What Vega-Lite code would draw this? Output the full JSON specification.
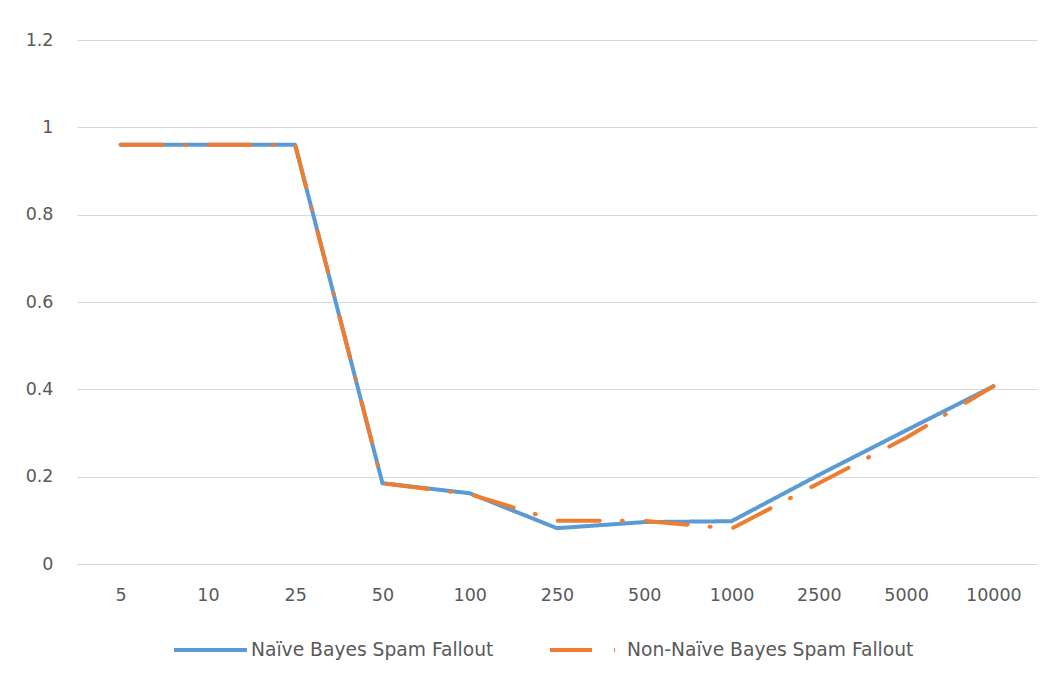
{
  "$schema": "https://vega.github.io/schema/vega-lite/v6.json",
  "width": 960,
  "height": 524,
  "autosize": {"type": "none"},
  "padding": {"left": 77, "top": 40, "right": 16, "bottom": 113},
  "background": "white",
  "config": {
    "view": {"stroke": null},
    "font": "DejaVu Sans",
    "axis": {"labelColor": "#595959", "labelFontSize": 17.5, "gridColor": "#d9d9d9", "gridWidth": 1, "ticks": false, "title": null}
  },
  "data": {
    "values": [
      {"n": "5", "series": "Naïve Bayes Spam Fallout", "v": 0.96},
      {"n": "10", "series": "Naïve Bayes Spam Fallout", "v": 0.96},
      {"n": "25", "series": "Naïve Bayes Spam Fallout", "v": 0.96},
      {"n": "50", "series": "Naïve Bayes Spam Fallout", "v": 0.185},
      {"n": "100", "series": "Naïve Bayes Spam Fallout", "v": 0.162},
      {"n": "250", "series": "Naïve Bayes Spam Fallout", "v": 0.082},
      {"n": "500", "series": "Naïve Bayes Spam Fallout", "v": 0.096},
      {"n": "1000", "series": "Naïve Bayes Spam Fallout", "v": 0.098},
      {"n": "2500", "series": "Naïve Bayes Spam Fallout", "v": 0.204},
      {"n": "5000", "series": "Naïve Bayes Spam Fallout", "v": 0.306},
      {"n": "10000", "series": "Naïve Bayes Spam Fallout", "v": 0.407},
      {"n": "5", "series": "Non-Naïve Bayes Spam Fallout", "v": 0.96},
      {"n": "10", "series": "Non-Naïve Bayes Spam Fallout", "v": 0.96},
      {"n": "25", "series": "Non-Naïve Bayes Spam Fallout", "v": 0.96},
      {"n": "50", "series": "Non-Naïve Bayes Spam Fallout", "v": 0.185},
      {"n": "100", "series": "Non-Naïve Bayes Spam Fallout", "v": 0.16},
      {"n": "250", "series": "Non-Naïve Bayes Spam Fallout", "v": 0.099},
      {"n": "500", "series": "Non-Naïve Bayes Spam Fallout", "v": 0.099},
      {"n": "1000", "series": "Non-Naïve Bayes Spam Fallout", "v": 0.081},
      {"n": "2500", "series": "Non-Naïve Bayes Spam Fallout", "v": 0.185},
      {"n": "5000", "series": "Non-Naïve Bayes Spam Fallout", "v": 0.289},
      {"n": "10000", "series": "Non-Naïve Bayes Spam Fallout", "v": 0.407}
    ]
  },
  "mark": {"type": "line", "strokeWidth": 4, "strokeCap": "round", "strokeJoin": "round"},
  "encoding": {
    "x": {
      "field": "n", "type": "ordinal", "sort": null,
      "scale": {"type": "point", "padding": 0.5},
      "axis": {"labelAngle": 0, "labelPadding": 22, "domain": true, "domainColor": "#d9d9d9", "grid": false}
    },
    "y": {
      "field": "v", "type": "quantitative",
      "scale": {"domain": [0, 1.2], "nice": false},
      "axis": {"values": [0, 0.2, 0.4, 0.6, 0.8, 1, 1.2], "labelExpr": "datum.value + ''", "domain": false, "labelPadding": 24, "grid": true}
    },
    "color": {
      "field": "series", "type": "nominal",
      "scale": {"domain": ["Naïve Bayes Spam Fallout", "Non-Naïve Bayes Spam Fallout"], "range": ["#5b9bd5", "#ed7d31"]},
      "legend": {"orient": "none", "legendX": 95, "legendY": 571, "direction": "horizontal", "title": null, "labelFontSize": 18.7, "labelColor": "#595959", "labelLimit": 500, "symbolType": "stroke", "symbolSize": 5329, "symbolStrokeWidth": 4, "labelOffset": 2, "columnPadding": 48}
    },
    "strokeDash": {
      "field": "series", "type": "nominal",
      "scale": {"domain": ["Naïve Bayes Spam Fallout", "Non-Naïve Bayes Spam Fallout"], "range": [[1, 0], [42, 22, 1, 23]]}
    }
  }
}
